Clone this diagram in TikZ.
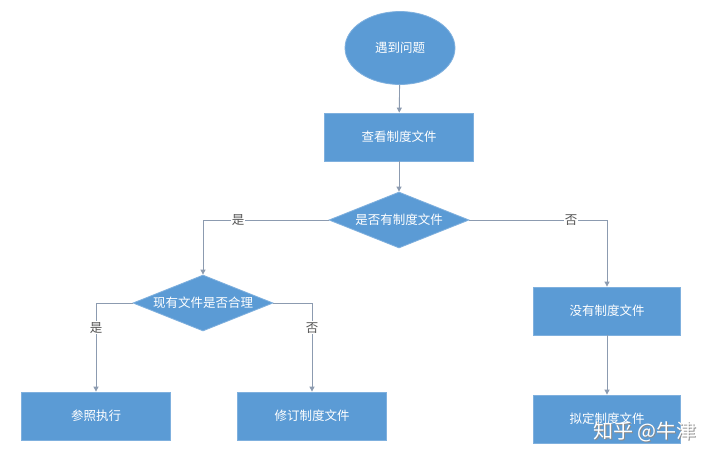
\documentclass[tikz,border=0pt]{standalone}
\usepackage{fontspec}
\newfontfamily\cjk{Noto Sans CJK SC}
\usetikzlibrary{arrows.meta,shapes.geometric}
\definecolor{fcblue}{HTML}{5B9BD5}
\definecolor{fcedge}{HTML}{7FB0DE}
\definecolor{fcline}{HTML}{8C9BB0}
\definecolor{fctext}{HTML}{555555}
\tikzset{
  box/.style={rectangle, fill=fcblue, draw=fcedge, line width=0.8pt, text=white,
    font=\cjk\fontsize{12.5}{14}\selectfont, minimum width=149pt, minimum height=48pt},
  start/.style={ellipse, fill=fcblue, draw=fcedge, line width=0.8pt, text=white,
    font=\cjk\fontsize{12.5}{14}\selectfont, minimum width=110pt, minimum height=73pt},
  choice/.style={diamond, fill=fcblue, draw=fcedge, line width=0.8pt, text=white,
    font=\cjk\fontsize{12.5}{14}\selectfont, inner sep=0pt, shape aspect=2.5,
    minimum width=140pt, minimum height=56pt},
  arr/.style={-{Triangle[length=5pt,width=5pt]}, line width=0.9pt, fcline},
  lbl/.style={fill=white, text=fctext, inner sep=1pt, font=\cjk\fontsize{12.5}{14}\selectfont},
}
\begin{document}
\begin{tikzpicture}[x=1pt, y=-1pt]
  \useasboundingbox[fill=white] (0,0) rectangle (720,463);
  % flow nodes
  \node[start] (meet) at (400,48) {遇到问题};
  \node[box] (look) at (399,137) {查看制度文件};
  \node[choice] (hasdoc) at (399,220) {是否有制度文件};
  \node[choice] (sound) at (203,303) {现有文件是否合理};
  \node[box] (follow) at (96,416) {参照执行};
  \node[box] (revise) at (312,416) {修订制度文件};
  \node[box, minimum width=147pt] (nodoc) at (607,311) {没有制度文件};
  \node[box, minimum width=147pt] (draft) at (607,419) {拟定制度文件};
  % connectors
  \draw[arr] (meet) -- (look);
  \draw[arr] (look) -- (hasdoc);
  \draw[arr] (hasdoc.west) -| node[lbl, pos=0.36] {是} (sound.north);
  \draw[arr] (hasdoc.east) -| node[lbl, pos=0.37] {否} (nodoc.north);
  \draw[arr] (sound.west) -| node[lbl, pos=0.64] {是} (follow.north);
  \draw[arr] (sound.east) -| node[lbl, pos=0.64] {否} (revise.north);
  \draw[arr] (nodoc) -- (draft);
  % watermark
  \node[text=black!45, font=\cjk\fontsize{20}{23}\selectfont] (markshade) at (645.8,432.8) {知乎 @牛津};
  \node[text=white, font=\cjk\fontsize{20}{23}\selectfont] (mark) at (645,432) {知乎 @牛津};
\end{tikzpicture}
\end{document}
